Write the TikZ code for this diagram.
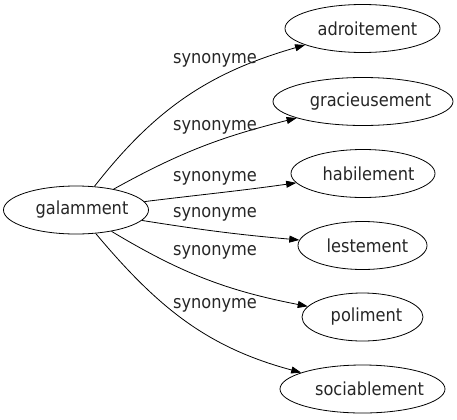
\documentclass[tikz,border=0pt]{standalone}
\usepackage{fontspec}
\setmainfont{DejaVu Sans Condensed}
\usetikzlibrary{shapes.geometric,arrows.meta}
\definecolor{txt}{HTML}{262626}
\newcommand\shiftedword[2]{\hspace*{#1}\makebox[0pt]{#2}}
\tikzset{
  word/.style={draw, ellipse, line width=0.8bp, inner sep=0pt, minimum height=48bp, text=txt, font=\fontsize{18bp}{20bp}\selectfont},
  edge/.style={draw, line width=0.8bp, -{Triangle[length=10bp,width=7bp]}},
  lab/.style={font=\fontsize{18bp}{20bp}\selectfont, text=txt, inner sep=0pt}
}
\begin{document}
\begin{tikzpicture}[x=1bp,y=1bp]
\useasboundingbox (0,0) rectangle (457,419);
\node[word, minimum width=145bp] (g) at (76,209) {\shiftedword{12bp}{galamment}};
\node[word, minimum width=155bp] (a) at (362.5,390.5) {\shiftedword{10bp}{adroitement}};
\node[word, minimum width=180bp] (b) at (363,317.5) {\shiftedword{15bp}{gracieusement}};
\node[word, minimum width=144bp] (c) at (363,245.5) {\shiftedword{11bp}{habilement}};
\node[word, minimum width=129bp] (d) at (362.5,173.5) {\shiftedword{10bp}{lestement}};
\node[word, minimum width=121bp] (e) at (362.5,102) {\shiftedword{8bp}{poliment}};
\node[word, minimum width=165bp] (f) at (362.5,30) {\shiftedword{14bp}{sociablement}};
\draw[edge] (g) to[out=52,in=196] (a);
\draw[edge] (g) to[out=29,in=194] (b);
\draw[edge] (g) to[out=7,in=188] (c);
\draw[edge] (g) to[out=-9,in=175] (d);
\draw[edge] (g) to[out=-31,in=169] (e);
\draw[edge] (g) to[out=-50,in=165] (f);
\node[lab] (l1) at (215,359) {synonyme};
\node[lab] (l2) at (215,292) {synonyme};
\node[lab] (l3) at (215,241) {synonyme};
\node[lab] (l4) at (215,205) {synonyme};
\node[lab] (l5) at (215,167) {synonyme};
\node[lab] (l6) at (215,114) {synonyme};
\end{tikzpicture}
\end{document}
